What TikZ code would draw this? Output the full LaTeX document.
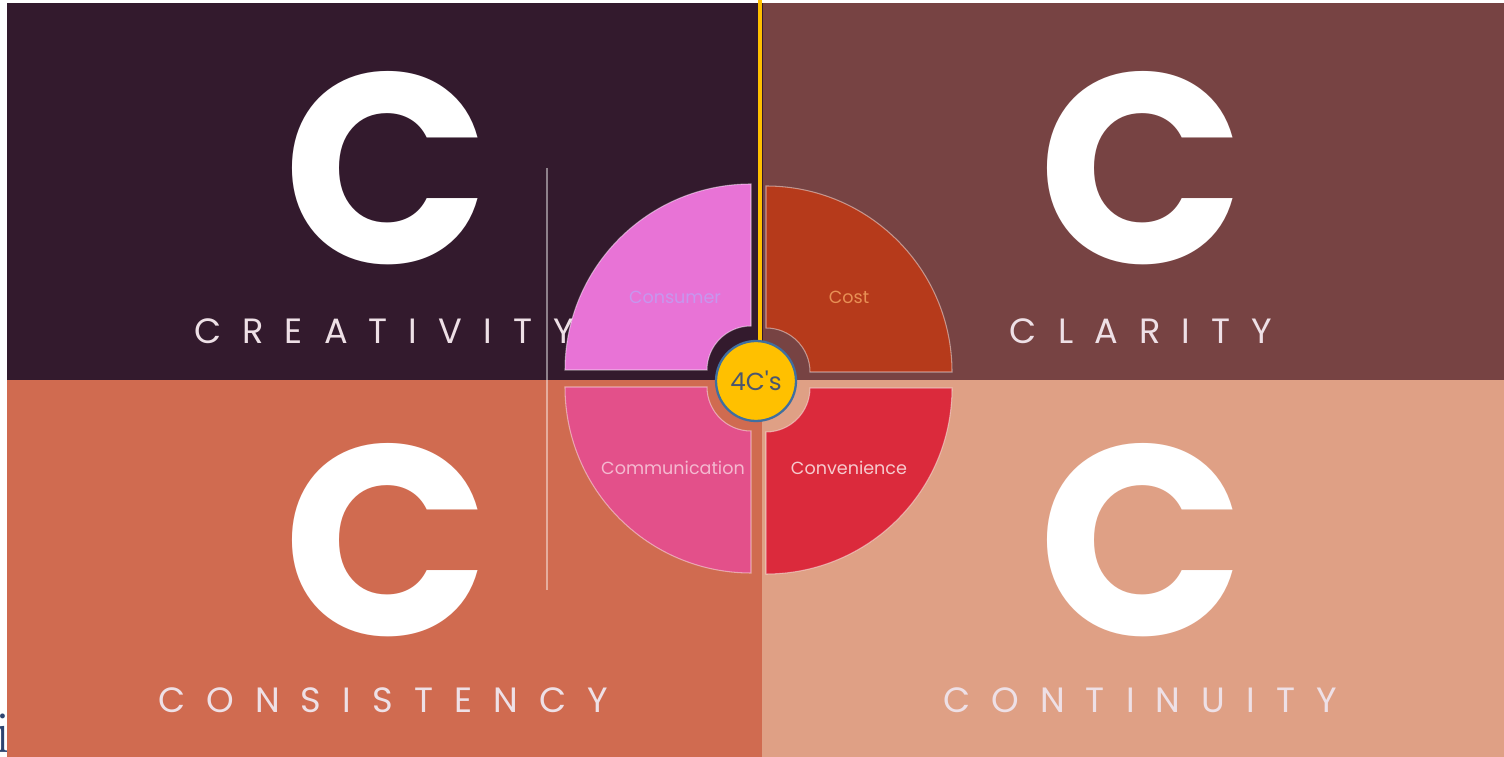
\documentclass[tikz,border=0pt]{standalone}
\usepackage{fontspec}
\newfontfamily\popfont{Poppins}
\newfontfamily\popwide{Poppins}[LetterSpace=60]
\definecolor{creatc}{HTML}{331A2D}
\definecolor{clarc}{HTML}{774343}
\definecolor{consc}{HTML}{D06B50}
\definecolor{contc}{HTML}{DFA085}
\definecolor{consumerc}{HTML}{E873D6}
\definecolor{costc}{HTML}{B63A1B}
\definecolor{commc}{HTML}{E3508A}
\definecolor{convc}{HTML}{DB2A3C}
\definecolor{titlec}{HTML}{EEE0E6}
\definecolor{hubc}{HTML}{FFC000}
\definecolor{hubline}{HTML}{3F6FA0}
\definecolor{hubtext}{HTML}{4A5670}
\definecolor{fragc}{HTML}{2E4470}
\tikzset{
  bigc/.style={text=white, inner sep=0pt, font=\popfont\bfseries\fontsize{154}{154}\selectfont},
  title/.style={text=titlec, inner sep=0pt, font=\popwide\fontsize{20}{20}\selectfont},
  petal/.style={draw=white, draw opacity=0.45, line width=0.6pt},
  petaltext/.style={inner sep=0pt, font=\popfont\fontsize{10}{10}\selectfont},
  hub/.style={circle, fill=hubc, draw=hubline, line width=1.3pt, minimum size=1.6cm, inner sep=0pt, text=hubtext, font=\popfont\fontsize{14}{14}\selectfont},
  spoke/.style={draw=hubc, line width=2.3pt},
}
\newcommand{\petal}[3]{%
  \filldraw[petal, fill=#3, shift={#1}, rotate=#2] (0,44) -- (0,186) arc[start angle=90, end angle=180, radius=186] -- (-44,0) arc[start angle=180, end angle=90, radius=44] -- cycle;}

\begin{document}
\begin{tikzpicture}[x=0.02cm, y=0.02cm]
\useasboundingbox (0,0) rectangle (1504,757);
\fill[white] (0,0) rectangle (1504,757);
\node[anchor=base, inner sep=0pt, text=fragc, font=\fontsize{34}{34}\selectfont] (frag) at (3,4) {i};
\fill[creatc] (7,377) rectangle (763,754);
\fill[clarc] (763,377) rectangle (1504,754);
\fill[consc] (7,0) rectangle (762,377);
\fill[contc] (762,0) rectangle (1504,377);
\node[bigc] (creatC) at (387,589) {C};
\node[bigc] (clarC) at (1142,589) {C};
\node[bigc] (consC) at (387,217) {C};
\node[bigc] (contC) at (1142,217) {C};
\node[title] (creat) at (384,426) {CREATIVITY};
\node[title] (clar) at (1141,426) {CLARITY};
\node[title] (cons) at (383,57) {CONSISTENCY};
\node[title] (cont) at (1140,57) {CONTINUITY};
\draw[white, draw opacity=0.45, line width=0.6pt] (547,589) -- (547,167);
\petal{(751,387)}{0}{consumerc}
\petal{(766,385)}{-90}{costc}
\petal{(751,370)}{90}{commc}
\petal{(766,369)}{180}{convc}
\node[petaltext, text=consumerc!70!blue!60!white] (consumer) at (675,460) {Consumer};
\node[petaltext, text=costc!45!orange!70!white] (cost) at (849,460) {Cost};
\node[petaltext, text=commc!40!white] (comm) at (673,289) {Communication};
\node[petaltext, text=convc!25!white] (conv) at (849,289) {Convenience};
\coordinate (top) at (760,757);
\draw[spoke] (top) -- (760,376);
\node[hub] (hub) at (756,376) {4C\textquotesingle s};
\end{tikzpicture}
\end{document}
